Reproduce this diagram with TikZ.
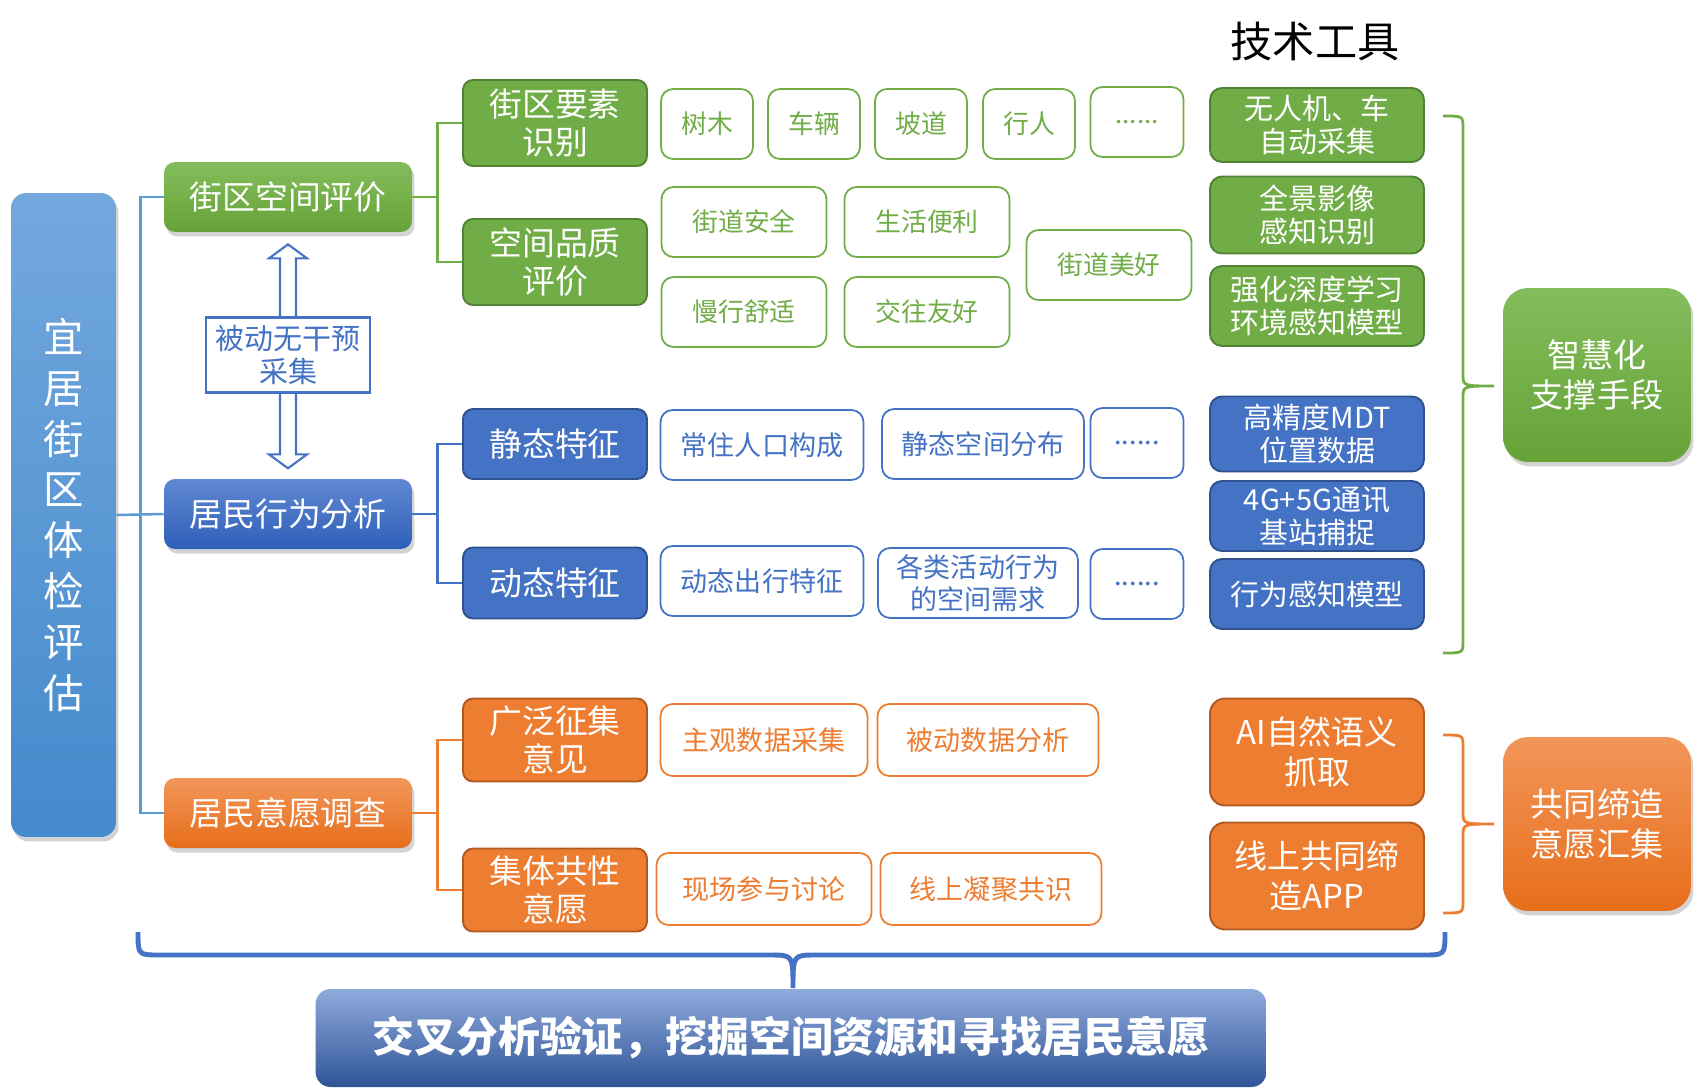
\documentclass[tikz,border=0pt]{standalone}
\usepackage{fontspec}
\setmainfont{Noto Sans CJK SC}
\usepackage{xcolor}
\usetikzlibrary{calc, shadows}
\definecolor{cgreen}{RGB}{112,173,71}
\definecolor{cgreenD}{RGB}{84,130,53}
\definecolor{cblue}{RGB}{68,114,196}
\definecolor{cblueD}{RGB}{47,82,143}
\definecolor{corange}{RGB}{237,125,49}
\definecolor{corangeD}{RGB}{174,90,33}
\definecolor{gTop}{RGB}{132,189,92}
\definecolor{gBot}{RGB}{101,163,55}
\definecolor{bTop}{RGB}{96,136,210}
\definecolor{bBot}{RGB}{46,95,184}
\definecolor{oTop}{RGB}{242,150,90}
\definecolor{oBot}{RGB}{231,110,26}
\definecolor{barTop}{RGB}{115,168,222}
\definecolor{barBot}{RGB}{68,138,204}
\definecolor{banTop}{RGB}{143,170,220}
\definecolor{banBot}{RGB}{47,85,151}
\definecolor{spineblue}{RGB}{91,155,213}
\newcommand{\fsz}[2]{\fontsize{#1pt}{#2pt}\selectfont}

\begin{document}
\begin{tikzpicture}[
        x=0.02cm, y=-0.02cm,
        box/.style={rectangle, inner sep=0pt, align=center, text=white},
        shade/.style={drop shadow={shadow xshift=0.05cm, shadow yshift=-0.09cm, opacity=0.35}},
        lvone/.style={box, shade, rounded corners=0.22cm, minimum width=4.96cm, minimum height=1.4cm, font=\fsz{18.7}{21.5}},
        greenone/.style={lvone, top color=gTop, bottom color=gBot},
        blueone/.style={lvone, top color=bTop, bottom color=bBot},
        orangeone/.style={lvone, top color=oTop, bottom color=oBot},
        lvtwo/.style={box, rounded corners=0.2cm, minimum width=3.68cm, line width=1.1pt, font=\fsz{18.7}{21.5}},
        glvtwo/.style={lvtwo, fill=cgreen, draw=cgreenD},
        blvtwo/.style={lvtwo, fill=cblue, draw=cblueD},
        olvtwo/.style={lvtwo, fill=corange, draw=corangeD},
        leaf/.style={rectangle, inner sep=0pt, align=center, rounded corners=0.24cm, fill=white, line width=1pt, minimum height=1.4cm, font=\fsz{15.4}{17.9}},
        gleaf/.style={leaf, draw=cgreen, text=cgreen, font=\fsz{14.7}{17.9}},
        bleaf/.style={leaf, draw=cblue, text=cblue},
        oleaf/.style={leaf, draw=corange, text=corange, minimum height=1.44cm},
        tool/.style={box, rounded corners=0.24cm, minimum width=4.28cm, line width=1.1pt, font=\fsz{16.5}{19}},
        gtool/.style={tool, fill=cgreen, draw=cgreenD},
        btool/.style={tool, fill=cblue, draw=cblueD},
        otool/.style={tool, fill=corange, draw=corangeD, rounded corners=0.3cm, minimum height=2.14cm, font=\fsz{18.7}{22.7}},
        sumbox/.style={box, shade, rounded corners=0.5cm, minimum width=3.76cm, minimum height=3.48cm, font=\fsz{18.8}{22.7}},
        link/.style={line width=1.6pt},
        hollow/.style={draw=cblue, line width=1.2pt, fill=white, line join=miter}
    ]
        \useasboundingbox (0,0) rectangle (1701,1089);

        % main column
        \node[box, shade, rounded corners=0.3cm, top color=barTop, bottom color=barBot, minimum width=2.1cm, minimum height=12.88cm, font=\fsz{23}{29}] (main) at (63.5,515) {宜\\居\\街\\区\\体\\检\\评\\估};

        \node[greenone]  (space)  at (288,197) {街区空间评价};
        \node[blueone]   (behav)  at (288,514) {居民行为分析};
        \node[orangeone] (survey) at (288,813) {居民意愿调查};

        \node[glvtwo, minimum height=1.72cm] (elem)    at (555,123) {街区要素\\识别};
        \node[glvtwo, minimum height=1.72cm] (qual)    at (555,262) {空间品质\\评价};
        \node[blvtwo, minimum height=1.4cm]  (static)  at (555,444) {静态特征};
        \node[blvtwo, minimum height=1.42cm] (dynamic) at (555,583) {动态特征};
        \node[olvtwo, minimum height=1.66cm] (wide)    at (555,740) {广泛征集\\意见};
        \node[olvtwo, minimum height=1.66cm] (collect) at (555,890) {集体共性\\意愿};

        % street elements
        \node[gleaf, minimum width=1.84cm] (tree)   at (707,124)  {树木};
        \node[gleaf, minimum width=1.84cm] (car)    at (814,124)  {车辆};
        \node[gleaf, minimum width=1.84cm] (slope)  at (921,124)  {坡道};
        \node[gleaf, minimum width=1.84cm] (walker) at (1029,124) {行人};
        \node[gleaf, minimum width=1.86cm] (gmore)  at (1137,122) {......};

        \node[gleaf, minimum width=3.3cm] (safe)   at (744,222)  {街道安全};
        \node[gleaf, minimum width=3.3cm] (conv)   at (927,222)  {生活便利};
        \node[gleaf, minimum width=3.3cm] (slow)   at (744,312)  {慢行舒适};
        \node[gleaf, minimum width=3.3cm] (social) at (927,312)  {交往友好};
        \node[gleaf, minimum width=3.3cm] (beauty) at (1109,265) {街道美好};

        % behaviour features
        \node[bleaf, minimum width=4.06cm] (resident) at (762,445)  {常住人口构成};
        \node[bleaf, minimum width=4.04cm] (sdist)    at (983,444)  {静态空间分布};
        \node[bleaf, minimum width=1.86cm] (bmoreA)   at (1137,443) {......};
        \node[bleaf, minimum width=4.06cm] (travel)   at (762,581)  {动态出行特征};
        \node[bleaf, minimum width=4.0cm]  (demand)   at (978,583)  {各类活动行为\\的空间需求};
        \node[bleaf, minimum width=1.86cm] (bmoreB)   at (1137,584) {......};

        % survey channels
        \node[oleaf, minimum width=4.14cm] (subj)    at (764,740) {主观数据采集};
        \node[oleaf, minimum width=4.42cm] (passive) at (988,740) {被动数据分析};
        \node[oleaf, minimum width=4.3cm]  (onsite)  at (764,889) {现场参与讨论};
        \node[oleaf, minimum width=4.42cm] (online)  at (991,889) {线上凝聚共识};

        % technical tools
        \node[font=\fsz{24}{28}] (tools) at (1315,41) {技术工具};
        \node[gtool, minimum height=1.48cm] (uav)     at (1317,125) {无人机、车\\自动采集};
        \node[gtool, minimum height=1.54cm] (pano)    at (1317,215) {全景影像\\感知识别};
        \node[gtool, minimum height=1.6cm]  (deep)    at (1317,306) {强化深度学习\\环境感知模型};
        \node[btool, minimum height=1.5cm]  (mdt)     at (1317,434) {高精度MDT\\位置数据};
        \node[btool, minimum height=1.4cm]  (station) at (1317,516) {4G+5G通讯\\基站捕捉};
        \node[btool, minimum height=1.4cm]  (bmodel)  at (1317,594) {行为感知模型};
        \node[otool] (nlp) at (1317,752) {AI自然语义\\抓取};
        \node[otool] (app) at (1317,876) {线上共同缔\\造APP};

        \node[sumbox, top color=gTop, bottom color=gBot] (smart)    at (1597,375) {智慧化\\支撑手段};
        \node[sumbox, top color=oTop, bottom color=oBot] (cocreate) at (1597,824) {共同缔造\\意愿汇集};

        \node[box, rounded corners=0.3cm, top color=banTop, bottom color=banBot, minimum width=19.02cm, minimum height=1.96cm, font=\bfseries\fsz{23.8}{28}] (result) at (791,1038) {交叉分析验证，挖掘空间资源和寻找居民意愿};

        % tree links
        \draw[link, spineblue, line width=1.4pt] (main.east) -- (behav.west);
        \draw[link, spineblue, line width=1.4pt] (space.west) -- ++(-23,0) |- (survey.west);
        \draw[link, cgreen]  (space.east)  -- ++(25,0) |- (elem.west);
        \draw[link, cgreen]  (space.east)  -- ++(25,0) |- (qual.west);
        \draw[link, cblue]   (behav.east)  -- ++(25,0) |- (static.west);
        \draw[link, cblue]   (behav.east)  -- ++(25,0) |- (dynamic.west);
        \draw[link, corange] (survey.east) -- ++(25,0) |- (wide.west);
        \draw[link, corange] (survey.east) -- ++(25,0) |- (collect.west);

        % hollow double arrow with its label
        \draw[hollow] ($(space.south)+(0,12)$) -- ++(19,14) -- ++(-11,0) -- ++(0,196) -- ++(11,0)
            -- ++(-19,14) -- ++(-19,-14) -- ++(11,0) -- ++(0,-196) -- ++(-11,0) -- cycle;
        \node[rectangle, draw=cblue, line width=1.2pt, fill=white, text=cblue, align=center, inner sep=0pt,
              minimum width=3.28cm, minimum height=1.5cm, font=\fsz{16.5}{19}] (nointv) at (288,355) {被动无干预\\采集};

        % brackets
        \draw[cgreen, line width=1.6pt] (1443,116) .. controls (1463,116) .. (1463,128) -- (1463,374)
            .. controls (1463,386) .. (1494,386) .. controls (1463,386) .. (1463,398) -- (1463,641)
            .. controls (1463,653) .. (1443,653);
        \draw[corange, line width=1.6pt] (1443,735) .. controls (1463,735) .. (1463,747) -- (1463,812)
            .. controls (1463,824) .. (1494,824) .. controls (1463,824) .. (1463,836) -- (1463,901)
            .. controls (1463,913) .. (1443,913);
        \draw[cblue, line width=2.8pt] (138,932) .. controls (138,955) .. (160,955) -- (770,955)
            .. controls (793,955) .. (793,988) .. controls (793,955) .. (816,955) -- (1423,955)
            .. controls (1445,955) .. (1445,932);
    \end{tikzpicture}
\end{document}
